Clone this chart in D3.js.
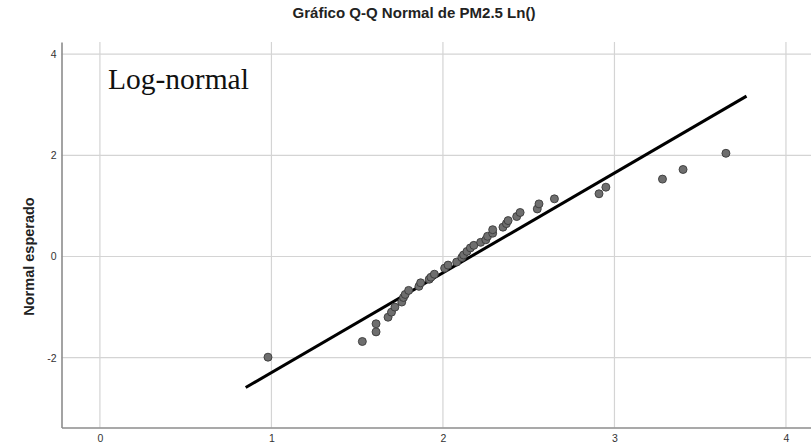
<!DOCTYPE html>
<html>
<head>
<meta charset="utf-8">
<script src="https://cdn.jsdelivr.net/npm/d3@7"></script>
<style>
  html, body { margin: 0; padding: 0; background: #fff; }
  svg { display: block; }
</style>
</head>
<body>
<svg id="chart" width="811" height="445"></svg>
<script>
// Observed values (ln PM2.5) and expected normal values
const observedValues = [0.98, 1.53, 1.61, 1.61, 1.68, 1.70, 1.72, 1.76, 1.77, 1.78,
  1.80, 1.86, 1.87, 1.92, 1.93, 1.95, 2.01, 2.03, 2.08, 2.11,
  2.12, 2.14, 2.16, 2.18, 2.22, 2.25, 2.26, 2.29, 2.29, 2.35,
  2.37, 2.38, 2.43, 2.45, 2.55, 2.56, 2.65, 2.91, 2.95, 3.28,
  3.40, 3.65];
const expectedNormal = [-1.99, -1.68, -1.49, -1.33, -1.20, -1.10, -1.00, -0.90, -0.81, -0.75,
  -0.67, -0.59, -0.52, -0.45, -0.41, -0.35, -0.23, -0.17, -0.11, -0.02,
  0.03, 0.10, 0.17, 0.22, 0.28, 0.33, 0.40, 0.46, 0.53, 0.58,
  0.65, 0.71, 0.79, 0.87, 0.94, 1.04, 1.14, 1.24, 1.37, 1.53,
  1.72, 2.04];
// Reference line endpoints (x, expected normal)
const refLineX = [0.85, 3.77];
const refLineY = [-2.59, 3.17];
const xTicks = [0, 1, 2, 3, 4];
const yTicks = [-2, 0, 2, 4];
const titleText = "Gráfico Q-Q Normal de PM2.5 Ln()";
const yLabelText = "Normal esperado";
const annotationText = "Log-normal";

(function () {
const svg = d3.select("#chart");
const pLeft = 61.5, pRight = 811, pTop = 42, pBottom = 427.5;

const x = d3.scaleLinear().domain([-0.224, 4.146]).range([pLeft, pRight]);
const y = d3.scaleLinear().domain([-3.38, 4.24]).range([pBottom, pTop]);
const fmt = d => String(d);

// gridlines
svg.append("g").selectAll("line").data(xTicks).join("line")
  .attr("x1", d => x(d)).attr("x2", d => x(d))
  .attr("y1", pTop).attr("y2", pBottom)
  .attr("stroke", "#d4d4d4").attr("stroke-width", 1.2);
svg.append("g").selectAll("line").data(yTicks).join("line")
  .attr("x1", pLeft).attr("x2", pRight)
  .attr("y1", d => y(d)).attr("y2", d => y(d))
  .attr("stroke", "#d4d4d4").attr("stroke-width", 1.2);

// axes
const xAxis = d3.axisBottom(x).tickValues(xTicks).tickSize(0).tickPadding(7).tickFormat(fmt);
const yAxis = d3.axisLeft(y).tickValues(yTicks).tickSize(0).tickPadding(5).tickFormat(fmt);
const gx = svg.append("g").attr("transform", `translate(0,${pBottom})`).call(xAxis);
const gy = svg.append("g").attr("transform", `translate(${pLeft},0)`).call(yAxis);
[gx, gy].forEach(g => {
  g.select(".domain").attr("stroke", "#8c8c8c").attr("stroke-width", 1.6);
  g.selectAll("text").attr("font-family", "Liberation Sans, Arial, sans-serif")
    .attr("font-size", 10.5).attr("fill", "#333");
});

// reference line
svg.append("line")
  .attr("x1", x(refLineX[0])).attr("y1", y(refLineY[0]))
  .attr("x2", x(refLineX[1])).attr("y2", y(refLineY[1]))
  .attr("stroke", "#000").attr("stroke-width", 3);

// points
svg.append("g").selectAll("circle").data(observedValues.map((v, i) => [v, expectedNormal[i]]))
  .join("circle")
  .attr("cx", d => x(d[0])).attr("cy", d => y(d[1])).attr("r", 4)
  .attr("fill", "#6e6e6e").attr("stroke", "#3a3a3a").attr("stroke-width", 0.9);

// title
svg.append("text").attr("x", 414).attr("y", 18).attr("text-anchor", "middle")
  .attr("font-family", "Liberation Sans, Arial, sans-serif").attr("font-size", 14)
  .attr("font-weight", "bold").attr("fill", "#222")
  .attr("textLength", 243).attr("lengthAdjust", "spacingAndGlyphs").text(titleText);

// y label
svg.append("text").attr("transform", `translate(34,${y(0)}) rotate(-90)`)
  .attr("text-anchor", "middle")
  .attr("font-family", "Liberation Sans, Arial, sans-serif").attr("font-size", 14.5)
  .attr("font-weight", "bold").attr("fill", "#222").text(yLabelText);

// annotation
svg.append("text").attr("x", 108).attr("y", 89)
  .attr("font-family", "Liberation Serif, Times New Roman, serif").attr("font-size", 29.5)
  .attr("fill", "#111").text(annotationText);
})();
</script>
</body>
</html>
